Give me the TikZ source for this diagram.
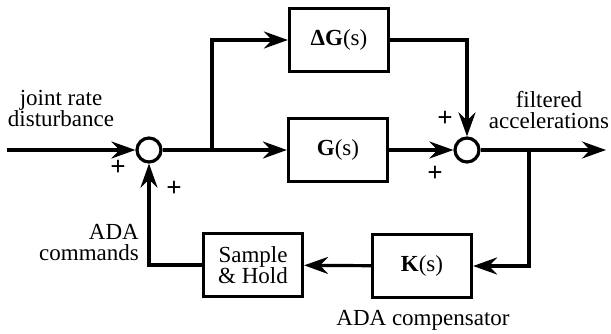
\documentclass[tikz,border=0pt]{standalone}
\usepackage{fontspec}
\setmainfont{Liberation Serif}
\usetikzlibrary{arrows.meta}

\begin{document}
\begin{tikzpicture}[x=1pt,y=-1pt,
  font=\fontsize{23}{25}\selectfont,
  blk/.style={draw,line width=3.2pt,minimum width=99pt,minimum height=63pt,inner sep=2pt,align=center},
  sum/.style={draw,circle,line width=3.2pt,minimum size=24pt,inner sep=0pt},
  arr/.style={-{Stealth[length=24pt,width=17pt,inset=8pt]},line width=3.2pt},
  ln/.style={line width=3.2pt},
  sgn/.style={font=\fontsize{27}{27}\selectfont\bfseries,inner sep=0pt}]
  \useasboundingbox (0,0) rectangle (611,333);
  \node[sum] (sumin) at (149,150) {};
  \node[sum] (sumout) at (467,150) {};
  \node[blk] (dgain) at (339,40) {\textbf{ΔG}(s)};
  \node[blk] (gain) at (338,150) {\textbf{G}(s)};
  \node[blk] (comp) at (422,266) {\textbf{K}(s)};
  \node[blk] (hold) at (253,265) {Sample\\[-4pt]\& Hold};
  \coordinate (src) at (7,150);
  \coordinate (dst) at (606,150);
  \coordinate (split) at (212,150);
  \coordinate (tap) at (529,150);
  % labels
  \node[align=center] (dist) at (61,108) {joint rate\\[-4pt]disturbance};
  \node[align=center] (filt) at (549,110) {filtered\\[-4pt]accelerations};
  \node[align=right] (cmd) at (89,243) {ADA\\[-4pt]commands};
  \node (compname) at (423,320) {ADA compensator};
  \node[sgn] (p1) at (118,168) {+};
  \node[sgn] (p2) at (174,189) {+};
  \node[sgn] (p3) at (445,119) {+};
  \node[sgn] (p4) at (435,174) {+};
  % connectors
  \draw[arr] (src)--(sumin);
  \draw[ln] (sumin)--(split);
  \draw[arr] (split)--(gain);
  \draw[arr] (split)|-(dgain);
  \draw[arr] (gain)--(sumout);
  \draw[arr] (dgain.east)-|(sumout);
  \draw[arr] (sumout)--(dst);
  \draw[arr] (tap)|-(comp);
  \draw[arr] (comp)--(hold);
  \draw[arr] (hold.west)-|(sumin);
\end{tikzpicture}
\end{document}
